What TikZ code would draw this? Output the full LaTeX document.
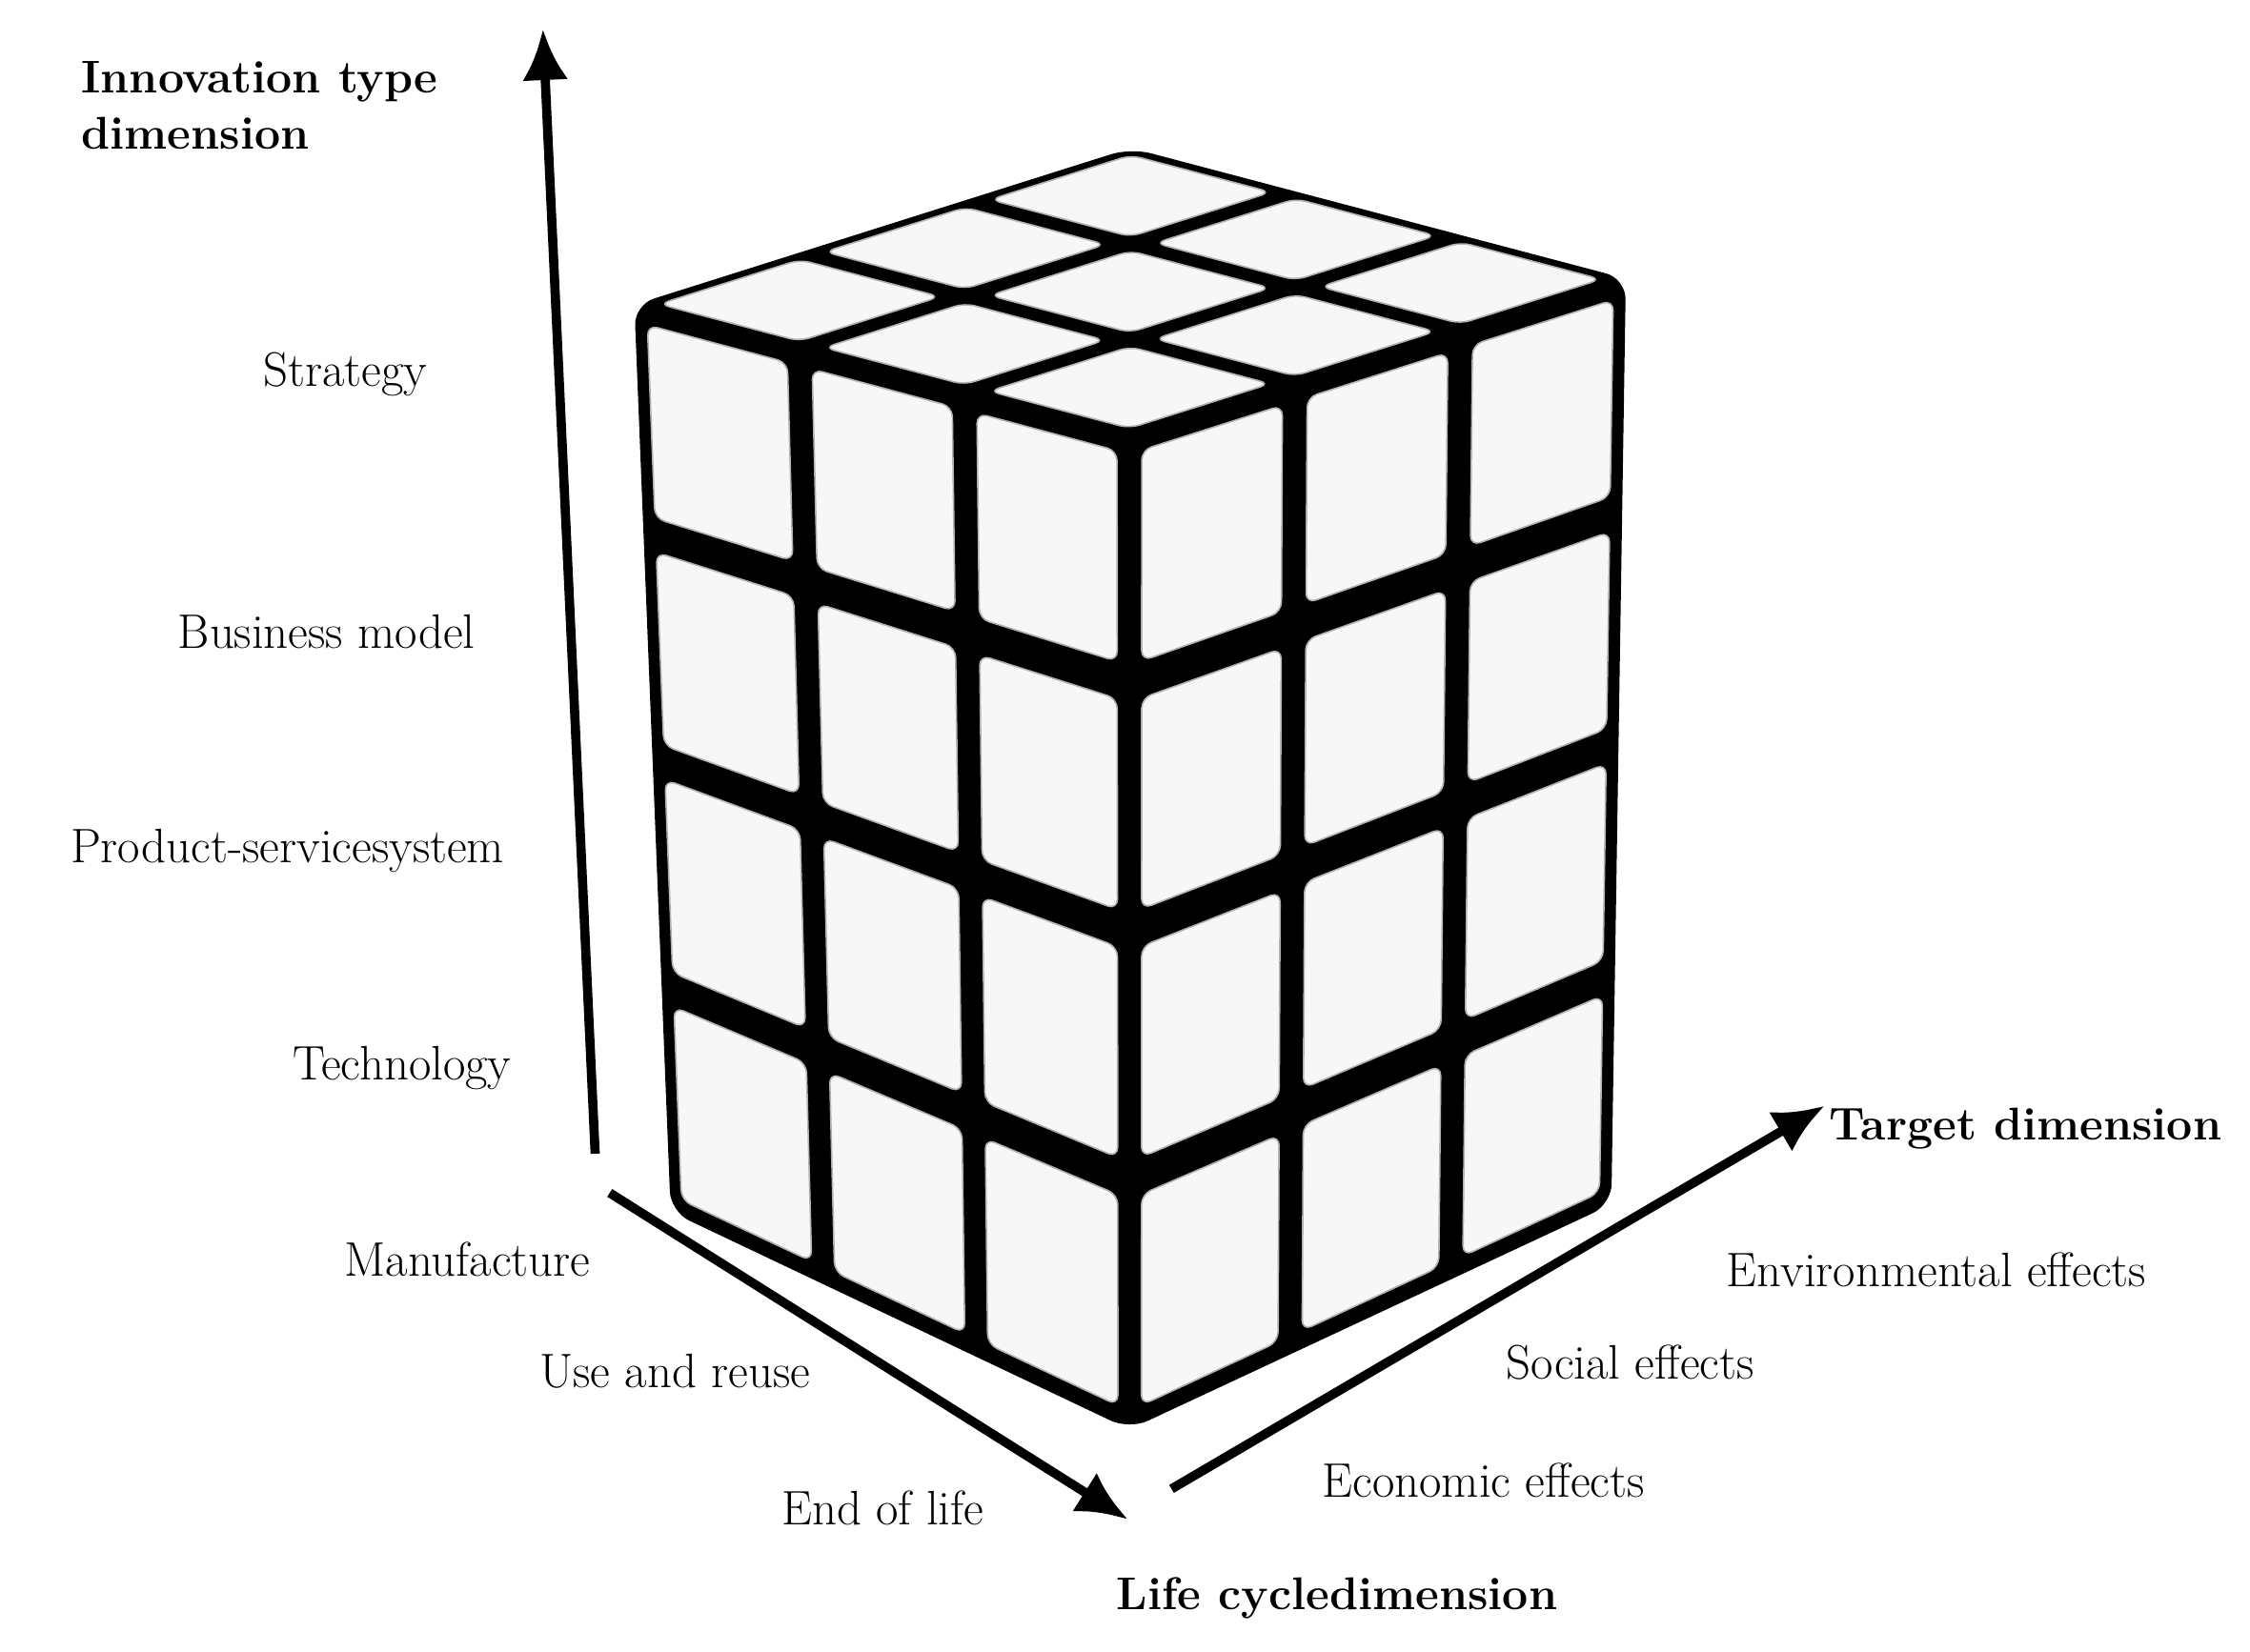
\documentclass[tikz,border=0pt]{standalone}
\usetikzlibrary{arrows.meta,calc}
\tikzset{
 lab/.style={font=\fontsize{19}{22}\selectfont},
 blab/.style={font=\fontsize{18}{22}\selectfont\bfseries, align=left},
 axis/.style={line width=3.6pt,-{Latex[length=20pt,width=18pt]}},
 sticker/.style={fill=gray!6, draw=gray!60, line width=0.6pt, rounded corners=4pt}
}
\begin{document}
\begin{tikzpicture}[x=0.02cm,y=-0.02cm]
\useasboundingbox (0,0) rectangle (1550,1138);
% cube geometry
\coordinate (F) at (778,300);
\coordinate (L) at (437,210);
\coordinate (R) at (1120,192);
\coordinate (B) at (779,102);
\coordinate (Fb) at (778,985);
\coordinate (Lb) at (462,835);
\coordinate (Rb) at (1110,830);
% black body
\fill[black, rounded corners=8pt] (L) -- (B) -- (R) -- (Rb) -- (Fb) -- (Lb) -- cycle;
\def\m{0.075}
% top face stickers
\foreach \i in {0,1,2}{\foreach \j in {0,1,2}{
 \pgfmathsetmacro\a{\i+\m}\pgfmathsetmacro\b{\i+1-\m}
 \pgfmathsetmacro\c{\j+\m}\pgfmathsetmacro\d{\j+1-\m}
 \draw[sticker]
  ($(F)+\a/3*($(L)-(F)$)+\c/3*($(R)-(F)$)$) --
  ($(F)+\b/3*($(L)-(F)$)+\c/3*($(R)-(F)$)$) --
  ($(F)+\b/3*($(L)-(F)$)+\d/3*($(R)-(F)$)$) --
  ($(F)+\a/3*($(L)-(F)$)+\d/3*($(R)-(F)$)$) -- cycle;
}}
% left face stickers
\foreach \i in {0,1,2}{\foreach \j in {0,1,2,3}{
 \pgfmathsetmacro\a{\i+\m}\pgfmathsetmacro\b{\i+1-\m}
 \pgfmathsetmacro\c{\j+\m}\pgfmathsetmacro\d{\j+1-\m}
 \draw[sticker]
  ($(F)+\a/3*($(L)-(F)$)+\c/4*($(Fb)-(F)$)+\a*\c/12*($(Lb)-(L)-(Fb)+(F)$)$) --
  ($(F)+\b/3*($(L)-(F)$)+\c/4*($(Fb)-(F)$)+\b*\c/12*($(Lb)-(L)-(Fb)+(F)$)$) --
  ($(F)+\b/3*($(L)-(F)$)+\d/4*($(Fb)-(F)$)+\b*\d/12*($(Lb)-(L)-(Fb)+(F)$)$) --
  ($(F)+\a/3*($(L)-(F)$)+\d/4*($(Fb)-(F)$)+\a*\d/12*($(Lb)-(L)-(Fb)+(F)$)$) -- cycle;
}}
% right face stickers
\foreach \i in {0,1,2}{\foreach \j in {0,1,2,3}{
 \pgfmathsetmacro\a{\i+\m}\pgfmathsetmacro\b{\i+1-\m}
 \pgfmathsetmacro\c{\j+\m}\pgfmathsetmacro\d{\j+1-\m}
 \draw[sticker]
  ($(F)+\a/3*($(R)-(F)$)+\c/4*($(Fb)-(F)$)+\a*\c/12*($(Rb)-(R)-(Fb)+(F)$)$) --
  ($(F)+\b/3*($(R)-(F)$)+\c/4*($(Fb)-(F)$)+\b*\c/12*($(Rb)-(R)-(Fb)+(F)$)$) --
  ($(F)+\b/3*($(R)-(F)$)+\d/4*($(Fb)-(F)$)+\b*\d/12*($(Rb)-(R)-(Fb)+(F)$)$) --
  ($(F)+\a/3*($(R)-(F)$)+\d/4*($(Fb)-(F)$)+\a*\d/12*($(Rb)-(R)-(Fb)+(F)$)$) -- cycle;
}}
% axes
\coordinate (v0) at (410,795); \coordinate (v1) at (374,20);
\coordinate (l0) at (420,822); \coordinate (l1) at (777,1047);
\coordinate (t0) at (807,1026); \coordinate (t1) at (1257,762);
\draw[axis] (v0) -- (v1);
\draw[axis] (l0) -- (l1);
\draw[axis] (t0) -- (t1);
% labels
\node[blab, anchor=north west] (itd) at (50,36) {Innovation type\\dimension};
\node[lab] (s) at (238,258) {Strategy};
\node[lab] (bm) at (225,435) {Business model};
\node[lab] (ps) at (198,586) {Product-servicesystem};
\node[lab] (te) at (277,736) {Technology};
\node[lab] (ma) at (322,868) {Manufacture};
\node[lab] (ur) at (465,945) {Use and reuse};
\node[lab] (el) at (608,1039) {End of life};
\node[blab] (lcd) at (921,1101) {Life cycledimension};
\node[lab] (ee) at (1022,1020) {Economic effects};
\node[lab] (se) at (1123,939) {Social effects};
\node[lab] (en) at (1334,875) {Environmental effects};
\node[blab, anchor=west] (td) at (1254,778) {Target dimension};
\end{tikzpicture}
\end{document}
